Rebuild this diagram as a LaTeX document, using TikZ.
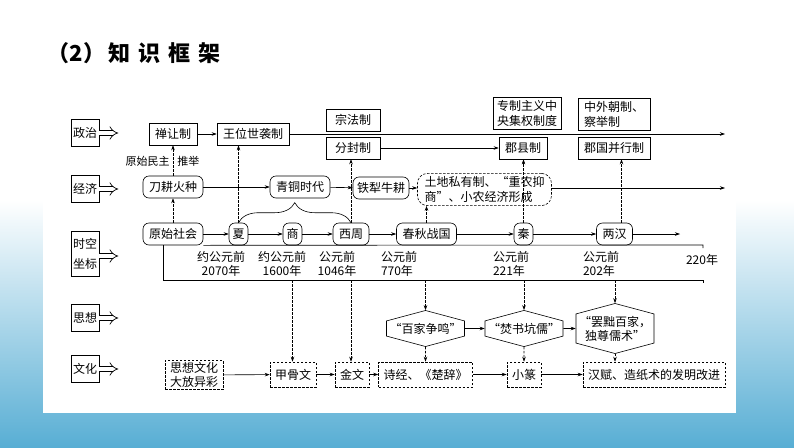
\documentclass[tikz,border=0pt]{standalone}
\usepackage{fontspec}
\setmainfont{Noto Sans CJK SC}
\usetikzlibrary{arrows.meta,shapes.symbols,decorations.pathreplacing,backgrounds}
\definecolor{skyb}{RGB}{88,174,212}
\tikzset{
  every node/.style={font=\fontsize{12}{15}\selectfont},
  sidelbl/.style={draw, minimum width=28pt, minimum height=27pt, inner sep=2pt, align=center},
  fatarr/.style={double, double distance=4pt, line width=0.7pt, -{Implies[scale=1.3]}},
  arr/.style={-{Stealth[length=5pt,width=3.5pt]}},
  darr/.style={arr, dash pattern=on 2.5pt off 1.5pt},
  pbox/.style={draw, minimum height=22pt, inner xsep=6pt, inner ysep=3pt, align=left},
  rbox/.style={draw, rounded corners=6pt, minimum height=22pt, inner xsep=6pt, inner ysep=3pt},
  dbox/.style={draw, dash pattern=on 2.5pt off 1.5pt, minimum height=25pt, inner xsep=5pt, inner ysep=2pt, align=left},
  hexa/.style={draw, signal, signal to=north and south, signal pointer angle=150, inner xsep=3pt, inner ysep=2pt, align=center},
  datelbl/.style={inner sep=1pt, font=\fontsize{12}{14}\selectfont},
  note/.style={inner sep=1pt, font=\fontsize{11}{13}\selectfont}
}
\begin{document}
\begin{tikzpicture}[x=1pt, y=-1pt, line width=0.6pt]
  \useasboundingbox (0,0) rectangle (794,447);
  % page
  \begin{scope}[on background layer]
    \shade[top color=white, bottom color=skyb] (0,200) rectangle (794,447);
    \fill[white] (43,150) rectangle (736,413);
  \end{scope}
  \node[anchor=west, font=\fontsize{22}{26}\selectfont\bfseries] (title) at (44,53) {（2）\hspace{3pt}知\hspace{8pt}识\hspace{8pt}框\hspace{8pt}架};

  % row labels
  \node[sidelbl] (lzz) at (85,133) {政治};
  \node[sidelbl] (ljj) at (85,189) {经济};
  \node[sidelbl, minimum height=45pt, font=\fontsize{12}{20}\selectfont] (lsk) at (85,254) {时空\\坐标};
  \node[sidelbl] (lsx) at (85,318) {思想};
  \node[sidelbl] (lwh) at (85,369) {文化};
  \foreach \n in {lzz,ljj,lsx,lwh}
    \draw[fatarr] (\n.east) -- ++(19,0);
  \draw[fatarr] ([yshift=-2pt]lsk.east) -- ++(19,0);

  % politics
  \node[pbox] (shan) at (173,134) {禅让制};
  \node[pbox] (wang) at (253,134) {王位世袭制};
  \node[pbox, minimum width=54pt] (zong) at (353,120) {宗法制};
  \node[pbox, minimum width=54pt] (fen) at (353,148) {分封制};
  \node[pbox] (jx) at (523,148) {郡县制};
  \node[pbox, inner xsep=4pt] (zz) at (527,113) {专制主义中\\央集权制度};
  \node[pbox] (zw) at (614,114) {中外朝制、\\察举制};
  \node[pbox] (jg) at (614,148) {郡国并行制};
  \coordinate (zzend) at (725,134);
  \draw[arr] (shan) -- (wang);
  \draw[arr] (wang) -- (zzend);
  \draw[arr] (fen) -- (jx);

  % economy
  \node[rbox] (dao) at (173,187) {刀耕火种};
  \node[rbox] (qt) at (300,187) {青铜时代};
  \node[rbox, inner xsep=4pt] (tie) at (381,188) {铁犁牛耕};
  \node[draw, dash pattern=on 2.5pt off 1.5pt, rounded corners=10pt, inner xsep=7pt, inner ysep=3pt, align=left] (tudi) at (484.5,189.5) {土地私有制、“重农抑\\商”、小农经济形成};
  \coordinate (jjend) at (725,188);
  \draw[arr] (dao) -- (qt);
  \draw[arr] (qt) -- (tie);
  \draw[arr] (tie.east) -- (tie.east -| tudi.west);
  \draw[arr] (tudi.east |- jjend) -- (jjend);
  \node[note, anchor=east] (mz) at (171,161) {原始民主};
  \node[note, anchor=west] (tj) at (176,161) {推举};

  % time line
  \node[rbox] (ys) at (173,234) {原始社会};
  \node[rbox, inner xsep=3.5pt] (xia) at (238.5,234) {夏};
  \node[rbox, inner xsep=3.5pt] (shang) at (292.5,234) {商};
  \node[rbox] (xz) at (351,234) {西周};
  \node[rbox] (cq) at (426.5,234) {春秋战国};
  \node[rbox, inner xsep=3.5pt] (qin) at (523.5,234) {秦};
  \node[rbox] (lh) at (614.5,234) {两汉};
  \coordinate (skend) at (680,234);
  \foreach \a/\b in {ys/xia, xia/shang, shang/xz, xz/cq, cq/qin, qin/lh, lh/skend}
    \draw[arr] (\a) -- (\b);
  \draw[decorate, decoration={brace, amplitude=20pt}] (xia.north) -- (xz.north);
  \coordinate (axt) at (703,245);
  \coordinate (axr) at (703,280);
  \draw (ys.south east) -- (axt) -- ++(0,3);
  \draw ([xshift=-10pt]ys.south) |- (axr) -- ++(0,3);
  \node[datelbl, align=center] (d1) at (221,264) {约公元前\\2070年};
  \node[datelbl, align=center] (d2) at (282,264) {约公元前\\1600年};
  \node[datelbl, align=center] (d3) at (337,264) {公元前\\1046年};
  \node[datelbl, align=left] (d4) at (399,264) {公元前\\770年};
  \node[datelbl, align=left] (d5) at (511,264) {公元前\\221年};
  \node[datelbl, align=left] (d6) at (601,264) {公元前\\202年};
  \node[datelbl] (d7) at (702,260) {220年};

  % links up
  \draw[darr] (ys) -- (dao);
  \draw[darr] (dao) -- (shan);
  \draw[darr] (xia.north) -- (xia.north |- wang.south);
  \draw[darr] (xz.north) -- (xz.north |- fen.south);
  \draw[darr] (cq.north) -- (cq.north |- tudi.south);
  \begin{scope}[on background layer]
    \draw[darr] (qin.north) -- (qin.north |- jx.south);
  \end{scope}
  \draw[darr] ([xshift=7pt]lh.north) -- ([xshift=7pt]lh.north |- jg.south);

  % thought
  \node[hexa] (bj) at (425.5,328.5) {“百家争鸣”};
  \node[hexa] (fs) at (524,328.5) {“焚书坑儒”};
  \node[hexa, font=\fontsize{12}{14}\selectfont] (bc) at (615,328.5) {“罢黜百家，\\独尊儒术”};
  \draw[arr] (bj) -- (fs);
  \draw[arr] (fs) -- (bc);

  % culture
  \node[dbox, font=\fontsize{12}{14}\selectfont] (dfy) at (194,375) {思想文化\\大放异彩};
  \node[dbox] (jgw) at (293,374.5) {甲骨文};
  \node[dbox] (jw) at (352,374.5) {金文};
  \node[dbox] (sj) at (425.5,374.5) {诗经、《楚辞》};
  \node[dbox] (xzh) at (524,374.5) {小篆};
  \node[dbox] (hf) at (654,374.5) {汉赋、造纸术的发明改进};
  \foreach \a/\b in {dfy/jgw, jgw/jw, jw/sj, sj/xzh, xzh/hf}
    \draw[arr] (\a) -- (\b);

  % links down
  \draw[darr] (shang.south |- axr) -- (shang.south |- jgw.north);
  \draw[darr] (xz.south |- axr) -- (xz.south |- jw.north);
  \draw[darr] (bj.north |- axr) -- (bj.north);
  \draw[darr] (fs.north |- axr) -- (fs.north);
  \draw[darr] (bc.north |- axr) -- (bc.north);
  \draw[darr] (bj) -- (sj);
  \draw[darr] (fs) -- (xzh);
  \draw[darr] (bc.south) -- (bc.south |- hf.north);
\end{tikzpicture}
\end{document}
